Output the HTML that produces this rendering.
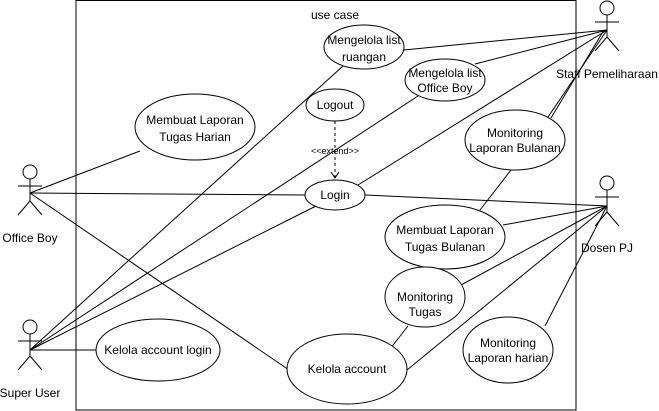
<!DOCTYPE html>
<html><head><style>
html,body{margin:0;padding:0;background:#fff;}
svg{display:block;}
text{font-family:"Liberation Sans",Arial,sans-serif;font-size:12px;fill:#000;}
</style></head><body>
<svg width="659" height="411" viewBox="0 0 659 411" xmlns="http://www.w3.org/2000/svg">
<rect x="76" y="0.5" width="500" height="409.5" fill="#fff" stroke="#000" stroke-width="1"/>
<text x="335" y="19" text-anchor="middle">use case</text>
<g stroke="#000" stroke-width="1" fill="none">
<line x1="30" y1="193" x2="140" y2="151"/>
<line x1="30" y1="193" x2="305" y2="195"/>
<line x1="30" y1="193" x2="289" y2="370"/>
<line x1="30" y1="350" x2="343" y2="66"/>
<line x1="30" y1="350" x2="418" y2="96"/>
<line x1="30" y1="350" x2="316" y2="206"/>
<line x1="30" y1="350" x2="96" y2="350"/>
<line x1="607" y1="30" x2="404" y2="50"/>
<line x1="607" y1="30" x2="475" y2="64"/>
<line x1="607" y1="30" x2="358" y2="185"/>
<line x1="607" y1="30" x2="548" y2="117"/>
<line x1="604" y1="30" x2="551" y2="118"/>
<line x1="607" y1="206" x2="365" y2="195"/>
<line x1="607" y1="206" x2="503" y2="225"/>
<line x1="607" y1="206" x2="461" y2="285"/>
<line x1="607" y1="206" x2="407" y2="370"/>
<line x1="607" y1="206" x2="545" y2="326"/>
<line x1="511" y1="170" x2="480" y2="210"/>
<line x1="440" y1="269" x2="434" y2="279"/>
<line x1="408" y1="326" x2="390" y2="349"/>
<line x1="335" y1="121" x2="335" y2="178" stroke-dasharray="3,3"/>
<polyline points="331,172 335,178 339,172"/>
</g>
<text x="335" y="154" text-anchor="middle" style="font-size:9px">&lt;&lt;extend&gt;&gt;</text>
<g stroke="#000" stroke-width="1" fill="#fff">
<ellipse cx="364" cy="47" rx="40" ry="22"/>
<ellipse cx="445" cy="80" rx="40" ry="21"/>
<ellipse cx="335" cy="105" rx="29" ry="16"/>
<ellipse cx="195" cy="127" rx="60" ry="33"/>
<ellipse cx="515" cy="140" rx="50" ry="30"/>
<ellipse cx="335" cy="195" rx="30" ry="15"/>
<ellipse cx="445" cy="237" rx="60" ry="32"/>
<ellipse cx="425" cy="297" rx="40" ry="30"/>
<ellipse cx="158" cy="350" rx="62" ry="31"/>
<ellipse cx="347" cy="369" rx="60" ry="35"/>
<ellipse cx="508" cy="350" rx="45" ry="33"/>
</g>
<g text-anchor="middle">
<text x="364" y="44">Mengelola list</text><text x="364" y="61">ruangan</text>
<text x="445" y="77">Mengelola list</text><text x="445" y="92">Office Boy</text>
<text x="335" y="109">Logout</text>
<text x="195" y="124">Membuat Laporan</text><text x="195" y="141">Tugas Harian</text>
<text x="515" y="137">Monitoring</text><text x="515" y="152">Laporan Bulanan</text>
<text x="335" y="199">Login</text>
<text x="445" y="234">Membuat Laporan</text><text x="445" y="251">Tugas Bulanan</text>
<text x="425" y="301">Monitoring</text><text x="425" y="316">Tugas</text>
<text x="158" y="354">Kelola account login</text>
<text x="347" y="373">Kelola account</text>
<text x="508" y="347">Monitoring</text><text x="508" y="362">Laporan harian</text>
</g>
<g stroke="#000" stroke-width="1" fill="#fff">
<g transform="translate(30,165)"><circle cx="0" cy="7" r="7"/><line x1="0" y1="14" x2="0" y2="36"/><line x1="-12" y1="21" x2="12" y2="21"/><line x1="0" y1="36" x2="-12" y2="50"/><line x1="0" y1="36" x2="12" y2="50"/></g>
<g transform="translate(30,320)"><circle cx="0" cy="7" r="7"/><line x1="0" y1="14" x2="0" y2="36"/><line x1="-12" y1="21" x2="12" y2="21"/><line x1="0" y1="36" x2="-12" y2="50"/><line x1="0" y1="36" x2="12" y2="50"/></g>
<g transform="translate(607,1)"><circle cx="0" cy="7" r="7"/><line x1="0" y1="14" x2="0" y2="36"/><line x1="-12" y1="21" x2="12" y2="21"/><line x1="0" y1="36" x2="-12" y2="50"/><line x1="0" y1="36" x2="12" y2="50"/></g>
<g transform="translate(607,176)"><circle cx="0" cy="7" r="7"/><line x1="0" y1="14" x2="0" y2="36"/><line x1="-12" y1="21" x2="12" y2="21"/><line x1="0" y1="36" x2="-12" y2="50"/><line x1="0" y1="36" x2="12" y2="50"/></g>
</g>
<g text-anchor="middle">
<text x="30" y="242">Office Boy</text>
<text x="30" y="397">Super User</text>
<text x="607" y="78">Staff Pemeliharaan</text>
<text x="607" y="252">Dosen PJ</text>
</g>
</svg>
</body></html>
